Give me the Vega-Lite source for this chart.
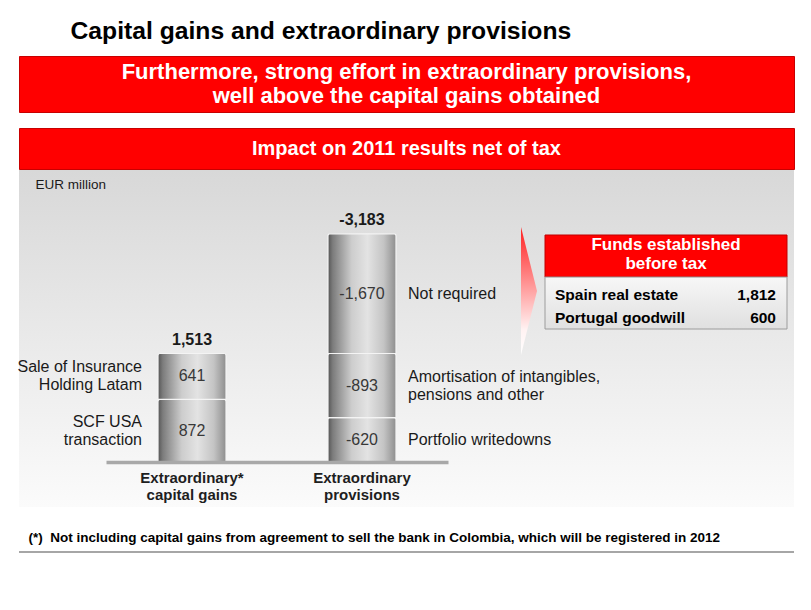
{
  "$schema": "https://vega.github.io/schema/vega-lite/v6.json",
  "background": "#ffffff",
  "padding": {"left": 17, "top": 18, "right": 19, "bottom": 50},
  "config": {
    "font": "Liberation Sans",
    "view": {"stroke": null},
    "title": {"font": "Liberation Sans"},
    "text": {"font": "Liberation Sans"}
  },
  "title": {
    "text": "Capital gains and extraordinary provisions",
    "anchor": "start",
    "dx": 53,
    "fontSize": 24.7,
    "fontWeight": "bold",
    "color": "#000000",
    "offset": 12
  },
  "spacing": 14,
  "vconcat": [
    {
      "width": 775,
      "height": 56,
      "view": {"fill": "#ff0000", "stroke": "#c80000", "strokeWidth": 1},
      "data": {"values": [{"headline": "Furthermore, strong effort in extraordinary provisions,\nwell above the capital gains obtained"}]},
      "mark": {"type": "text", "lineBreak": "\n", "fontSize": 22, "fontWeight": "bold", "color": "#ffffff", "align": "center", "baseline": "middle", "lineHeight": 24.4, "dy": -12},
      "encoding": {"text": {"field": "headline"}}
    },
    {
      "spacing": 24,
      "vconcat": [
        {
          "spacing": 0,
          "vconcat": [
            {
              "width": 775,
              "height": 41,
              "view": {"fill": "#ff0000", "stroke": "#c80000", "strokeWidth": 1},
              "data": {"values": [{"headline": "Impact on 2011 results net of tax"}]},
              "mark": {"type": "text", "fontSize": 20, "fontWeight": "bold", "color": "#ffffff", "align": "center", "baseline": "middle"},
              "encoding": {"text": {"field": "headline"}}
            },
            {
              "width": 775,
              "height": 337,
              "title": {"text": "EUR million", "anchor": "start", "dx": 18, "offset": -21, "fontSize": 13.5, "fontWeight": "normal", "color": "#1a1a1a"},
              "resolve": {"scale": {"x": "independent", "y": "independent"}},
              "layer": [
                {
                  "data": {"values": [{}]},
                  "mark": {"type": "rect", "fill": {"gradient": "linear", "x1": 0, "y1": 0, "x2": 0, "y2": 1, "stops": [{"offset": 0, "color": "#d8d8d8"}, {"offset": 1, "color": "#fbfbfb"}]}},
                  "encoding": {"x": {"value": 0}, "x2": {"value": "width"}, "y": {"value": 0}, "y2": {"value": "height"}}
                },
                {
                  "data": {"values": [
                    {"group": "Extraordinary* capital gains", "component": "SCF USA\ntransaction", "value": 872, "order": 1},
                    {"group": "Extraordinary* capital gains", "component": "Sale of Insurance\nHolding Latam", "value": 641, "order": 2},
                    {"group": "Extraordinary provisions", "component": "Portfolio writedowns", "value": -620, "order": 1},
                    {"group": "Extraordinary provisions", "component": "Amortisation of intangibles,\npensions and other", "value": -893, "order": 2},
                    {"group": "Extraordinary provisions", "component": "Not required", "value": -1670, "order": 3}
                  ]},
                  "transform": [
                    {"calculate": "abs(datum.value)", "as": "size"},
                    {"stack": "size", "groupby": ["group"], "sort": [{"field": "order"}], "as": ["y0", "y1"]},
                    {"calculate": "(datum.y0 + datum.y1) / 2", "as": "ymid"},
                    {"calculate": "replace(format(datum.value, ','), '\u2212', '-')", "as": "label"}
                  ],
                  "layer": [
                    {
                      "mark": {
                        "type": "bar",
                        "fill": {"gradient": "linear", "x1": 0, "y1": 0, "x2": 1, "y2": 0, "stops": [
                          {"offset": 0, "color": "#555555"},
                          {"offset": 0.07, "color": "#7c7c7c"},
                          {"offset": 0.35, "color": "#cdcdcd"},
                          {"offset": 0.58, "color": "#e3e3e3"},
                          {"offset": 0.82, "color": "#c4c4c4"},
                          {"offset": 1, "color": "#8e8e8e"}
                        ]},
                        "stroke": "#f4f4f4",
                        "strokeWidth": 1.2,
                        "cornerRadiusTopLeft": 2,
                        "cornerRadiusTopRight": 2
                      },
                      "encoding": {
                        "x": {
                          "field": "group", "type": "nominal", "sort": null,
                          "scale": {"type": "band", "domain": ["Extraordinary* capital gains", "Extraordinary provisions"], "range": [87, 429], "paddingInner": 0.6, "paddingOuter": 0.306},
                          "axis": {
                            "orient": "bottom", "offset": -45, "title": null, "ticks": false, "zindex": 1,
                            "domainColor": "#a8a8a8", "domainWidth": 3.5,
                            "labelAngle": 0, "labelFontSize": 15, "labelFontWeight": "bold", "labelColor": "#1e1e1e",
                            "labelPadding": 8, "labelLineHeight": 17, "labelOverlap": false, "labelBaseline": "top",
                            "labelExpr": "[substring(datum.label, 0, indexof(datum.label, ' ')), substring(datum.label, indexof(datum.label, ' ') + 1)]"
                          }
                        },
                        "y": {"field": "y1", "type": "quantitative", "scale": {"domain": [-628, 4073], "nice": false, "zero": false}, "axis": null},
                        "y2": {"field": "y0"}
                      }
                    },
                    {
                      "mark": {"type": "text", "fontSize": 16, "color": "#383838", "baseline": "middle"},
                      "encoding": {
                        "x": {"field": "group", "type": "nominal", "sort": null},
                        "y": {"field": "ymid", "type": "quantitative"},
                        "text": {"field": "label"}
                      }
                    },
                    {
                      "transform": [
                        {"aggregate": [{"op": "sum", "field": "value", "as": "total"}, {"op": "sum", "field": "size", "as": "height"}], "groupby": ["group"]},
                        {"calculate": "replace(format(datum.total, ','), '\u2212', '-')", "as": "totalLabel"}
                      ],
                      "mark": {"type": "text", "fontSize": 16, "fontWeight": "bold", "color": "#1a1a1a", "baseline": "alphabetic", "dy": -9},
                      "encoding": {
                        "x": {"field": "group", "type": "nominal", "sort": null},
                        "y": {"field": "height", "type": "quantitative"},
                        "text": {"field": "totalLabel"}
                      }
                    },
                    {
                      "transform": [{"filter": "datum.group == 'Extraordinary* capital gains'"}],
                      "mark": {"type": "text", "align": "right", "baseline": "middle", "dx": -16, "dy": -9, "fontSize": 16, "color": "#1a1a1a", "lineBreak": "\n", "lineHeight": 18},
                      "encoding": {
                        "x": {"field": "group", "type": "nominal", "sort": null, "bandPosition": 0},
                        "y": {"field": "ymid", "type": "quantitative"},
                        "text": {"field": "component"}
                      }
                    },
                    {
                      "transform": [{"filter": "datum.group == 'Extraordinary provisions' && indexof(datum.component, '\\n') < 0"}],
                      "mark": {"type": "text", "align": "left", "baseline": "middle", "dx": 12, "fontSize": 16, "color": "#1a1a1a"},
                      "encoding": {
                        "x": {"field": "group", "type": "nominal", "sort": null, "bandPosition": 1},
                        "y": {"field": "ymid", "type": "quantitative"},
                        "text": {"field": "component"}
                      }
                    },
                    {
                      "transform": [{"filter": "datum.group == 'Extraordinary provisions' && indexof(datum.component, '\\n') >= 0"}],
                      "mark": {"type": "text", "align": "left", "baseline": "middle", "dx": 12, "dy": -9, "fontSize": 16, "color": "#1a1a1a", "lineBreak": "\n", "lineHeight": 18},
                      "encoding": {
                        "x": {"field": "group", "type": "nominal", "sort": null, "bandPosition": 1},
                        "y": {"field": "ymid", "type": "quantitative"},
                        "text": {"field": "component"}
                      }
                    }
                  ]
                },
                {
                  "data": {"values": [
                    {"item": "Spain real estate", "amount": 1812},
                    {"item": "Portugal goodwill", "amount": 600}
                  ]},
                  "layer": [
                    {
                      "data": {"values": [{}]},
                      "mark": {
                        "type": "point", "shape": "M -0.125 -1 L 0.125 0 L -0.125 1 Z", "size": 16384, "filled": true, "opacity": 1, "strokeWidth": 0,
                        "fill": {"gradient": "linear", "x1": 0, "y1": 0, "x2": 0, "y2": 1, "stops": [{"offset": 0, "color": "#ff2020"}, {"offset": 0.8, "color": "#fff2f2"}, {"offset": 1, "color": "#ffffff"}]}
                      },
                      "encoding": {
                        "x": {"datum": "table", "type": "nominal", "bandPosition": -0.066, "scale": {"type": "band", "domain": ["table"], "range": [526, 768], "paddingInner": 0, "paddingOuter": 0}, "axis": null},
                        "y": {"datum": "Spain real estate", "type": "nominal", "bandPosition": 0.383, "scale": {"type": "band", "domain": ["Funds established", "before tax", "Spain real estate", "Portugal goodwill"], "range": [65, 159], "paddingInner": 0, "paddingOuter": 0}, "axis": null}
                      }
                    },
                    {
                      "data": {"values": [{}]},
                      "mark": {"type": "rect", "fill": "#ff0000", "stroke": "#c00000", "strokeWidth": 1},
                      "encoding": {
                        "x": {"datum": "table", "type": "nominal"},
                        "y": {"datum": "Funds established", "type": "nominal", "bandPosition": 0},
                        "y2": {"datum": "before tax", "bandPosition": 0.79}
                      }
                    },
                    {
                      "data": {"values": [{}]},
                      "mark": {"type": "rect", "stroke": "#9c9c9c", "strokeWidth": 1, "fill": {"gradient": "linear", "x1": 0, "y1": 0, "x2": 0, "y2": 1, "stops": [{"offset": 0, "color": "#f7f7f7"}, {"offset": 1, "color": "#e0e0e0"}]}},
                      "encoding": {
                        "x": {"datum": "table", "type": "nominal"},
                        "y": {"datum": "before tax", "type": "nominal", "bandPosition": 0.79},
                        "y2": {"datum": "Portugal goodwill", "bandPosition": 1}
                      }
                    },
                    {
                      "data": {"values": [{"heading": "Funds established\nbefore tax"}]},
                      "mark": {"type": "text", "lineBreak": "\n", "lineHeight": 19, "fontSize": 17, "fontWeight": "bold", "color": "#ffffff", "align": "center", "baseline": "middle"},
                      "encoding": {
                        "x": {"datum": "table", "type": "nominal"},
                        "y": {"datum": "Funds established", "type": "nominal", "bandPosition": 0.42},
                        "text": {"field": "heading"}
                      }
                    },
                    {
                      "mark": {"type": "text", "align": "left", "baseline": "middle", "dx": 10, "dy": 1, "fontSize": 15.5, "fontWeight": "bold", "color": "#000000"},
                      "encoding": {
                        "x": {"datum": "table", "type": "nominal", "bandPosition": 0},
                        "y": {"field": "item", "type": "nominal"},
                        "text": {"field": "item"}
                      }
                    },
                    {
                      "mark": {"type": "text", "align": "right", "baseline": "middle", "dx": -11, "dy": 1, "fontSize": 15.5, "fontWeight": "bold", "color": "#000000"},
                      "encoding": {
                        "x": {"datum": "table", "type": "nominal", "bandPosition": 1},
                        "y": {"field": "item", "type": "nominal"},
                        "text": {"field": "amount", "type": "quantitative", "format": ","}
                      }
                    }
                  ]
                }
              ]
            }
          ]
        },
        {
          "width": 775,
          "height": 2,
          "view": {"fill": "#a6a6a6", "stroke": null},
          "title": {"text": "(*)\u00a0\u00a0Not including capital gains from agreement to sell the bank in Colombia, which will be registered in 2012", "anchor": "start", "dx": 10, "fontSize": 13.5, "fontWeight": "bold", "color": "#000000", "offset": 6},
          "data": {"values": [{}]},
          "mark": {"type": "rule", "opacity": 0},
          "encoding": {}
        }
      ]
    }
  ]
}
